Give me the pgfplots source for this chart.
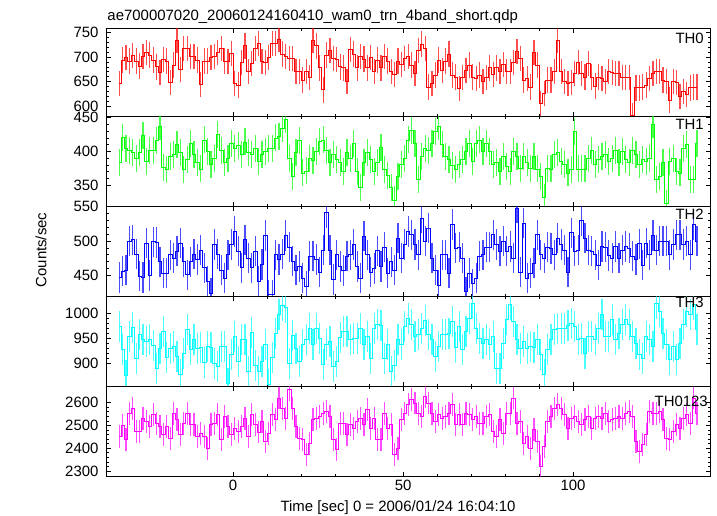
\documentclass[border=0pt]{standalone}
\usepackage{fontspec}
\setmainfont{Liberation Sans}
\usepackage{pgfplots}
\pgfplotsset{compat=1.18}
\usepackage{pgfplotstable}

\pgfplotstableread{
t a b c d e
-33.5 646 384 447 973 2452
-32.5 694 421 456 927 2500
-31.5 699 404 458 875 2437
-30.5 692 402 500 953 2554
-29.5 703 398 502 971 2576
-28.5 692 389 481 910 2474
-27.5 682 398 449 958 2474
-26.5 701 424 447 947 2532
-25.5 709 385 497 943 2518
-24.5 704 401 450 947 2496
-23.5 694 402 499 935 2547
-22.5 680 416 498 890 2510
-21.5 668 437 470 930 2496
-20.5 695 376 453 963 2459
-19.5 692 373 453 911 2496
-18.5 648 393 480 930 2444
-17.5 684 396 475 933 2554
-16.5 734 410 485 913 2525
-15.5 675 398 497 878 2459
-14.5 718 373 470 920 2510
-13.5 718 388 451 967 2554
-12.5 701 412 470 927 2503
-11.5 701 396 481 947 2503
-10.5 694 384 473 930 2452
-9.5 644 374 487 931 2466
-8.5 692 417 461 902 2452
-7.5 692 400 441 933 2400
-6.5 699 380 424 931 2503
-5.5 701 389 495 900 2510
-4.5 710 425 481 893 2547
-3.5 718 401 458 933 2437
-2.5 692 384 446 933 2540
-1.5 691 389 480 860 2496
-0.5 708 412 495 917 2459
0.5 646 404 514 953 2488
1.5 643 409 485 903 2474
2.5 689 396 461 947 2496
3.5 723 414 502 947 2532
4.5 671 398 475 883 2452
5.5 687 395 461 962 2547
6.5 718 404 485 895 2503
7.5 728 385 441 883 2471
8.5 691 396 466 903 2518
9.5 689 400 508 937 2430
10.5 699 404 422 858 2466
11.5 728 404 422 911 2547
12.5 728 420 480 960 2525
13.5 737 422 473 998 2620
14.5 706 434 481 1015 2576
15.5 701 447 508 1011 2532
16.5 697 390 491 900 2657
17.5 697 363 471 955 2576
18.5 671 398 458 930 2496
19.5 671 416 463 903 2444
20.5 653 368 446 937 2437
21.5 671 371 434 947 2371
22.5 658 390 478 970 2422
23.5 735 386 478 937 2525
24.5 723 400 473 969 2532
25.5 678 415 455 950 2540
26.5 633 417 487 898 2554
27.5 704 402 541 937 2561
28.5 714 384 487 943 2540
29.5 697 395 444 893 2437
30.5 695 388 480 903 2393
31.5 680 383 463 952 2510
32.5 678 370 457 963 2510
33.5 650 398 478 963 2459
34.5 716 390 480 947 2503
35.5 706 412 495 950 2488
36.5 678 370 463 950 2518
37.5 701 346 446 970 2532
38.5 696 384 507 937 2503
39.5 678 398 480 953 2569
40.5 699 388 455 910 2488
41.5 670 370 460 970 2532
42.5 694 384 486 977 2437
43.5 678 406 463 975 2437
44.5 701 373 491 910 2554
45.5 692 364 453 937 2488
46.5 670 346 470 883 2503
47.5 665 328 458 895 2371
48.5 692 363 504 947 2400
49.5 685 380 475 937 2525
50.5 697 390 495 973 2554
51.5 701 417 514 990 2591
52.5 684 431 509 977 2613
53.5 667 412 495 953 2598
54.5 714 358 480 957 2554
55.5 727 393 533 970 2540
56.5 718 405 500 985 2627
57.5 639 402 519 957 2598
58.5 646 412 475 947 2554
59.5 663 429 458 913 2518
60.5 694 437 436 933 2547
61.5 673 410 480 957 2532
62.5 692 393 480 957 2540
63.5 706 388 453 960 2554
64.5 663 379 524 983 2591
65.5 659 373 490 931 2503
66.5 636 380 491 973 2547
67.5 658 388 475 927 2503
68.5 673 400 426 963 2554
69.5 684 412 453 990 2547
70.5 659 385 438 1020 2525
71.5 656 412 446 970 2540
72.5 663 417 478 950 2510
73.5 650 400 480 940 2510
74.5 658 412 491 947 2540
75.5 678 400 491 937 2547
76.5 665 380 509 953 2474
77.5 678 384 495 890 2452
78.5 671 370 485 890 2525
79.5 685 393 500 940 2466
80.5 671 378 485 987 2554
81.5 670 370 492 1017 2554
82.5 689 400 475 983 2620
83.5 712 393 548 947 2510
84.5 697 375 455 930 2518
85.5 653 393 526 943 2422
86.5 656 383 446 930 2452
87.5 639 375 453 933 2400
88.5 710 393 468 931 2481
89.5 684 374 509 947 2430
90.5 605 363 480 917 2320
91.5 626 332 475 877 2408
92.5 653 375 491 927 2518
93.5 653 374 489 947 2540
94.5 670 395 480 967 2576
95.5 735 398 504 969 2591
96.5 670 385 495 969 2576
97.5 650 380 487 970 2547
98.5 646 368 455 975 2488
99.5 648 373 512 980 2532
100.5 667 430 485 973 2540
101.5 689 374 487 947 2518
102.5 667 374 530 950 2503
103.5 659 374 504 920 2525
104.5 687 390 487 953 2540
105.5 659 401 485 953 2488
106.5 641 380 480 947 2532
107.5 659 388 465 970 2540
108.5 656 393 492 997 2532
109.5 650 395 491 953 2554
110.5 670 385 479 953 2518
111.5 669 390 475 987 2525
112.5 667 401 492 947 2532
113.5 667 384 475 960 2540
114.5 658 400 487 977 2532
115.5 658 388 492 987 2554
116.5 658 384 490 977 2561
117.5 581 401 478 953 2540
118.5 637 395 473 940 2430
119.5 637 380 496 917 2386
120.5 639 388 465 910 2415
121.5 643 385 497 953 2459
122.5 656 390 480 947 2561
123.5 667 440 508 933 2554
124.5 670 358 487 1020 2554
125.5 670 363 500 1003 2561
126.5 653 383 500 960 2525
127.5 650 323 500 937 2444
128.5 612 385 480 907 2437
129.5 650 390 495 933 2474
130.5 648 370 509 907 2503
131.5 619 368 509 940 2488
132.5 629 405 495 977 2532
133.5 624 410 500 1003 2547
134.5 637 359 480 997 2510
135.5 639 359 524 1017 2620
136.5 639 412 500 967 2554
}\data

\definecolor{qred}{rgb}{1,0,0}
\definecolor{qgreen}{rgb}{0,1,0}
\definecolor{qblue}{rgb}{0,0,1}
\definecolor{qcyan}{rgb}{0,1,1}
\definecolor{qmag}{rgb}{1,0,1}

\tikzset{thl/.style={anchor=north east, inner sep=0pt, font=\fontsize{15}{18}\selectfont}}

\pgfplotsset{
  base/.style={
    anchor=north west, scale only axis, width=604bp,
    xmin=-37.4, xmax=140.3,
    xtick={0,50,100}, minor x tick num=4,
    minor y tick num=4,
    tick align=inside, xtick pos=both, ytick pos=both,
    major tick length=4.5bp, minor tick length=2.5bp,
    tick style={black, line width=0.7bp},
    axis line style={black, line width=0.9bp},
    tick label style={font=\fontsize{15}{18}\selectfont},
    /pgf/number format/assume math mode=true,
    /pgf/number format/1000 sep={},
    yticklabel style={xshift=-4bp, inner ysep=0pt},
  },
  nolab/.style={xticklabels={}},
  ser/.style n args={2}{const plot mark mid, draw=#1, line width=0.8bp,
    error bars/.cd, y dir=both, y fixed=#2, error mark=none,
    error bar style={draw=#1, line width=1.2bp, opacity=0.7}},
}

\begin{document}
\begin{tikzpicture}
\useasboundingbox (-106bp,28bp) rectangle (611bp,-488bp);

\begin{axis}[base, nolab, at={(0bp,0bp)}, height=88.7bp, ymin=578, ymax=759.6, ytick={600,650,700,750}]
\addplot[ser={qred}{26}] table[x=t,y=a]{\data};
\node[thl, xshift=-6bp, yshift=-5.3bp] at (rel axis cs:1,1) {TH0};
\end{axis}

\begin{axis}[base, nolab, at={(0bp,-88.7bp)}, height=89.3bp, ymin=319, ymax=451.5, ytick={350,400,450}]
\addplot[ser={qgreen}{20}] table[x=t,y=b]{\data};
\node[thl, xshift=-6bp, yshift=-2.6bp] at (rel axis cs:1,1) {TH1};
\end{axis}

\begin{axis}[base, nolab, at={(0bp,-178bp)}, height=90.7bp, ymin=419, ymax=551, ytick={450,500,550}]
\addplot[ser={qblue}{22}] table[x=t,y=c]{\data};
\node[thl, xshift=-6bp, yshift=-2.7bp] at (rel axis cs:1,1) {TH2};
\end{axis}

\begin{axis}[base, nolab, at={(0bp,-268.7bp)}, height=89.3bp, ymin=854.6, ymax=1033.2, ytick={900,950,1000}]
\addplot[ser={qcyan}{31}] table[x=t,y=d]{\data};
\node[thl, xshift=-6bp, yshift=-0.5bp] at (rel axis cs:1,1) {TH3};
\end{axis}

\begin{axis}[base, at={(0bp,-358bp)}, height=90.7bp, ymin=2275, ymax=2673, ytick={2300,2400,2500,2600}]
\addplot[ser={qmag}{50}] table[x=t,y=e]{\data};
\node[thl, xshift=-2bp, yshift=-10bp] at (rel axis cs:1,1) {TH0123};
\end{axis}

\node[anchor=base west, inner sep=0pt, font=\fontsize{15}{18}\selectfont] at (1.3bp,7.3bp) {ae700007020\_20060124160410\_wam0\_trn\_4band\_short.qdp};
\node[rotate=90, inner sep=0pt, font=\fontsize{15}{18}\selectfont] at (-65bp,-222bp) {Counts/sec};
\node[anchor=base, inner sep=0pt, font=\fontsize{15}{18}\selectfont] at (292bp,-483bp) {Time [sec] 0 = 2006/01/24 16:04:10};
\end{tikzpicture}
\end{document}
